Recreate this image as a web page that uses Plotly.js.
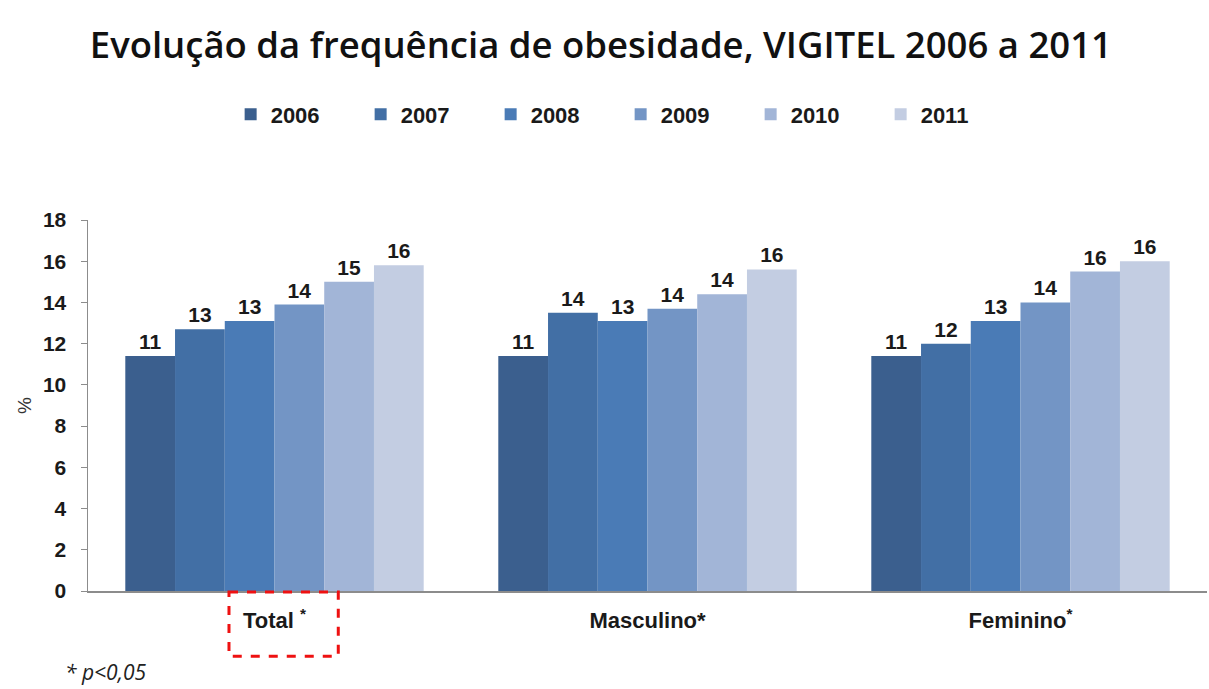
<!DOCTYPE html>
<html>
<head>
<meta charset="utf-8">
<script src="https://cdn.plot.ly/plotly-3.0.1.min.js"></script>
<style>
  html, body { margin: 0; padding: 0; background: #ffffff; }
  #chart { width: 1209px; height: 689px; }
</style>
</head>
<body>
<div id="chart"></div>
<script>
// ---- Data ----
const categories = ['Total', 'Masculino', 'Feminino'];
const tickLabels = ['Total <sup>*</sup>', 'Masculino*', 'Feminino<sup>*</sup>'];
const years = ['2006', '2007', '2008', '2009', '2010', '2011'];
const v2006 = [11.4, 11.4, 11.4];
const v2007 = [12.7, 13.5, 12.0];
const v2008 = [13.1, 13.1, 13.1];
const v2009 = [13.9, 13.7, 14.0];
const v2010 = [15.0, 14.4, 15.5];
const v2011 = [15.8, 15.6, 16.0];
const seriesValues = [v2006, v2007, v2008, v2009, v2010, v2011];
const colors = ['#3b5f8e', '#426fa5', '#4a7bb6', '#7395c5', '#a2b5d7', '#c3cde2'];
const yTicks = [0, 2, 4, 6, 8, 10, 12, 14, 16, 18];
const footnote = '* p<0,05';

const boldFont = 'Liberation Sans, Arial, sans-serif';

const traces = years.map((yr, i) => ({
  type: 'bar',
  name: yr,
  x: categories,
  y: seriesValues[i],
  marker: { color: colors[i], line: { width: 0 } },
  texttemplate: '%{y:.0f}',
  textposition: 'outside',
  cliponaxis: false,
  textfont: { family: boldFont, size: 21, color: '#1a1a1a', weight: 'bold' },
  hoverinfo: 'skip'
}));

const layout = {
  width: 1209,
  height: 689,
  paper_bgcolor: '#ffffff',
  plot_bgcolor: '#ffffff',
  margin: { l: 88, r: 2, t: 220, b: 98 },
  barmode: 'group',
  bargap: 0.2,
  bargroupgap: 0,
  title: {
    text: 'Evolução da frequência de obesidade, VIGITEL 2006 a 2011',
    font: { family: 'Open Sans, sans-serif', size: 36.5, color: '#111111', weight: 600 },
    x: 0.497, xanchor: 'center',
    y: 0.935, yanchor: 'middle', yref: 'container'
  },
  showlegend: true,
  legend: {
    orientation: 'h',
    x: 0.476, xanchor: 'center',
    y: 0.834, yanchor: 'middle', yref: 'container',
    font: { family: boldFont, size: 22, color: '#1a1a1a', weight: 'bold' },
    entrywidth: 85,
    entrywidthmode: 'pixels',
    itemwidth: 30,
    traceorder: 'normal'
  },
  xaxis: {
    type: 'category',
    tickmode: 'array',
    tickvals: categories,
    ticktext: tickLabels,
    showline: true,
    linecolor: '#8c8c8c',
    linewidth: 1.5,
    ticks: '',
    showgrid: false,
    zeroline: false,
    tickfont: { family: boldFont, size: 22, color: '#1a1a1a', weight: 'bold' },
    ticklabelstandoff: 9,
    fixedrange: true
  },
  yaxis: {
    range: [0, 18],
    tickmode: 'array',
    tickvals: yTicks,
    showline: true,
    linecolor: '#8c8c8c',
    linewidth: 1.5,
    ticks: 'outside',
    ticklen: 6,
    tickcolor: '#8c8c8c',
    showgrid: false,
    zeroline: false,
    tickfont: { family: boldFont, size: 21, color: '#1a1a1a', weight: 'bold' },
    ticklabelstandoff: 10,
    title: { text: '%', font: { family: boldFont, size: 19, color: '#333333' }, standoff: 6 },
    fixedrange: true
  },
  shapes: [{
    type: 'rect',
    xref: 'x', yref: 'paper',
    x0: -0.122, x1: 0.171,
    y0: -0.003, y1: -0.176,
    line: { color: '#ee1111', width: 3, dash: 'dash' },
    fillcolor: 'rgba(0,0,0,0)',
    layer: 'above'
  }],
  annotations: [{
    text: '<i>' + footnote.replace('<', '&lt;') + '</i>',
    xref: 'paper', yref: 'paper',
    x: -0.022, xanchor: 'left',
    y: -0.217, yanchor: 'middle',
    showarrow: false,
    font: { family: 'Open Sans, sans-serif', size: 21, color: '#222222', style: 'italic' }
  }]
};

Plotly.newPlot('chart', traces, layout, { displayModeBar: false, staticPlot: true });
</script>
</body>
</html>
